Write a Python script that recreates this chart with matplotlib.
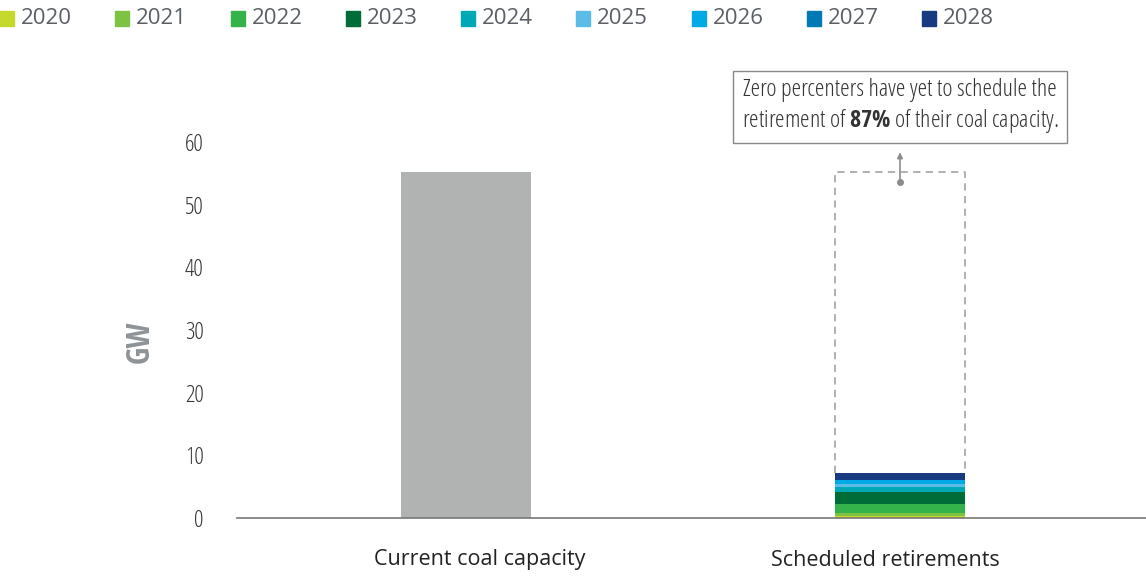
import matplotlib.pyplot as plt
from matplotlib.patches import Rectangle

# data
categories = ["Current coal capacity", "Scheduled retirements"]
current_capacity = 55.2
years = ["2020", "2021", "2022", "2023", "2024", "2025", "2026", "2027", "2028"]
retirements = [0.3, 0.5, 1.5, 1.8, 0.9, 0.5, 0.5, 0.1, 1.1]
year_colors = ["#C5D92D", "#7DC242", "#33B34A", "#006C37", "#00A8B5",
               "#5BBCE8", "#00AAE5", "#0079B4", "#183A80"]
note_dot = 53.6
note_tip = 58.8

regular = ["Open Sans", "DejaVu Sans"]
plt.rcParams["mathtext.fontset"] = "custom"
plt.rcParams["mathtext.bf"] = "Open Sans Condensed:bold"

W, H = 1146, 576
fig = plt.figure(figsize=(W / 100, H / 100), dpi=100)
ax = fig.add_axes([237 / W, (H - 518) / H, 909 / W, 376 / H])

x = [0, 1]
bw = 0.3
ax.bar(x[0], current_capacity, width=bw, color="#B1B3B3", zorder=2)

bottom = 0
for val, col in zip(retirements, year_colors):
    ax.bar(x[1], val, width=bw, bottom=bottom, color=col, zorder=2)
    bottom += val

# dashed outline showing the unscheduled remainder
ax.plot([x[1] - bw / 2, x[1] - bw / 2, x[1] + bw / 2, x[1] + bw / 2],
        [bottom, current_capacity, current_capacity, bottom],
        ls=(0, (4, 3)), color="#AAAAAA", lw=1.3, zorder=1)

ax.annotate("", xy=(x[1], note_tip), xytext=(x[1], note_dot),
            arrowprops=dict(arrowstyle="-|>", color="#8C8C8C", lw=1.2,
                            mutation_scale=8), annotation_clip=False)
ax.plot(x[1], note_dot, "o", color="#8C8C8C", ms=4, clip_on=False, zorder=3)

ax.text(x[1], 65.7,
        "Zero percenters have yet to schedule the\nretirement of $\\mathbf{87\\%}$ of their coal capacity.",
        ha="center", va="center", fontsize=17.5, family=regular,
        fontstretch="condensed", color="#333333",
        linespacing=1.25, clip_on=False,
        bbox=dict(boxstyle="square,pad=0.35", fc="white", ec="#888888", lw=1))

ax.set_xlim(-0.528, 1.567)
ax.set_ylim(0, 60)
ax.set_yticks(range(0, 61, 10))
ax.set_xticks(x)
ax.set_xticklabels([])
# category labels sit slightly off the bar centres in the reference (offsets in px)
for xi, name, dx in zip(x, categories, [14, -15]):
    ax.annotate(name, xy=(xi, 0), xytext=(dx * 0.72, -42 * 0.72), textcoords="offset points",
                ha="center", va="center", fontsize=15.5, family=regular,
                color="#222222", annotation_clip=False)
for lab in ax.get_yticklabels():
    lab.set_family(regular)
    lab.set_fontstretch("condensed")
    lab.set_fontsize(17)
    lab.set_color("#333333")
ax.tick_params(axis="y", length=0, pad=24)
ax.tick_params(axis="x", length=0)
for s in ["top", "right", "left"]:
    ax.spines[s].set_visible(False)
ax.spines["bottom"].set_color("#777777")
ax.spines["bottom"].set_linewidth(1.2)
ax.set_ylabel("GW", fontsize=23, family=["Open Sans Condensed", "DejaVu Sans"],
              fontweight="bold", color="#8E9398", labelpad=20)
ax.yaxis.label.set_y((518 - 342) / 376)

# legend across the top
for i, (yr, col) in enumerate(zip(years, year_colors)):
    x0 = round(i * 115.3) / W
    fig.patches.append(Rectangle((x0, (H - 26) / H), 14 / W, 15 / H,
                                 transform=fig.transFigure, color=col))
    fig.text(x0 + 21 / W, (H - 19) / H, yr, fontsize=16, family=regular,
             color="#5A5F66", va="center", ha="left")

fig.savefig("out.png", dpi=100)
